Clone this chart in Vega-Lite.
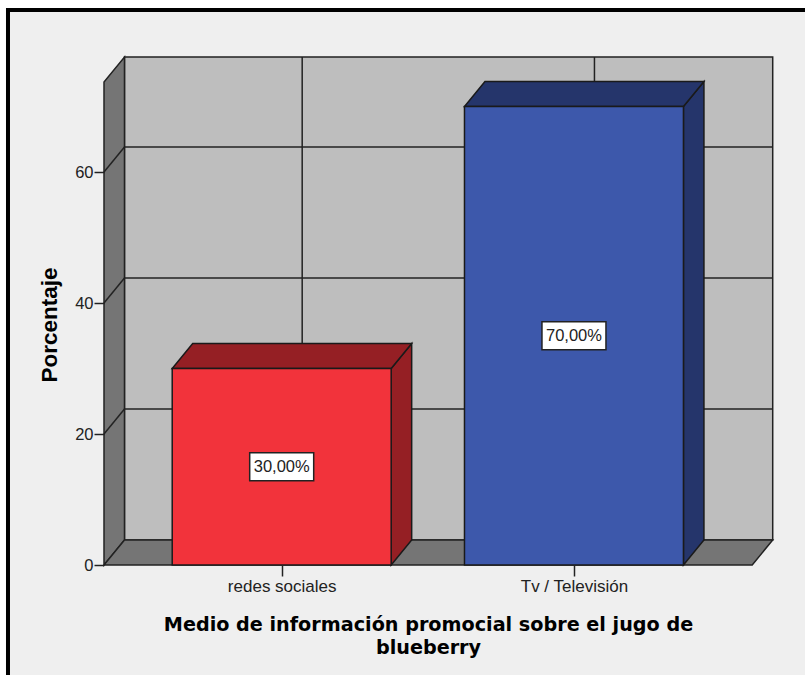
{
  "$schema": "https://vega.github.io/schema/vega-lite/v6.json",
  "autosize": {"type": "none"},
  "padding": {"left": 104, "top": 57, "right": 32, "bottom": 110},
  "width": 669,
  "height": 508,
  "background": "#ffffff",
  "view": {"stroke": null},
  "params": [
    {"name": "lo", "value": 0.392},
    {"name": "hi", "value": 2.6099},
    {"name": "fx", "value": 0.0701},
    {"name": "fy", "value": 3.82},
    {"name": "cima", "value": 73.74},
    {"name": "semi", "value": 0.3746}
  ],
  "datasets": {
    "barras": [
      {"medio": "redes sociales", "orden": 1, "porcentaje": 30},
      {"medio": "Tv / Televisión", "orden": 2, "porcentaje": 70}
    ],
    "niveles": [{"nivel": 20}, {"nivel": 40}, {"nivel": 60}],
    "categorias": [{"orden": 1}, {"orden": 2}],
    "uno": [{"k": 1}],
    "dos": [{"v": 0}, {"v": 1}],
    "cuatro": [{"v": 0}, {"v": 1}, {"v": 2}, {"v": 3}]
  },
  "layer": [
    {
      "data": {"name": "uno"},
      "transform": [
        {"calculate": "0.0635", "as": "a"},
        {"calculate": "2.825", "as": "b"},
        {"calculate": "84.73", "as": "t"},
        {"calculate": "-18.32", "as": "s"}
      ],
      "mark": {"type": "rect", "fill": "#efefef", "stroke": "#000000", "strokeWidth": 4},
      "encoding": {
        "x": {
          "field": "a",
          "type": "quantitative",
          "scale": {"domain": [0.392, 2.681], "nice": false, "zero": false},
          "axis": {
            "values": [1, 2],
            "labelExpr": "datum.value === 1 ? 'redes sociales' : 'Tv / Televisión'",
            "zindex": 1,
            "domain": false,
            "grid": false,
            "tickColor": "#222222",
            "tickWidth": 1.5,
            "tickSize": 11,
            "labelFont": "Liberation Sans",
            "labelFontSize": 17,
            "labelColor": "#222222",
            "labelPadding": 2,
            "labelOverlap": false,
            "labelBound": false,
            "labelFlush": false,
            "title": ["Medio de información promocial sobre el jugo de", "blueberry"],
            "titleFont": "DejaVu Sans",
            "titleFontSize": 19.2,
            "titleFontWeight": "bold",
            "titleColor": "#000000",
            "titleLineHeight": 22.5,
            "titleBaseline": "alphabetic",
            "titleX": 324,
            "titleY": 65.7
          }
        },
        "x2": {"field": "b"},
        "y": {
          "field": "t",
          "type": "quantitative",
          "scale": {"domain": [0, 77.56], "nice": false, "zero": false},
          "axis": {
            "values": [0, 20, 40, 60],
            "format": "d",
            "zindex": 1,
            "domain": false,
            "grid": false,
            "tickColor": "#222222",
            "tickWidth": 1.5,
            "tickSize": 10,
            "labelFont": "Liberation Sans",
            "labelFontSize": 16.5,
            "labelColor": "#222222",
            "labelPadding": 1,
            "labelBound": false,
            "labelFlush": false,
            "labelOverlap": false,
            "title": "Porcentaje",
            "titleFont": "Liberation Sans",
            "titleFontSize": 22.5,
            "titleFontWeight": "bold",
            "titleColor": "#000000",
            "titleAngle": -90,
            "titleBaseline": "alphabetic",
            "titleX": -47.3,
            "titleY": 267.5
          }
        },
        "y2": {"field": "s"}
      }
    },
    {
      "data": {"name": "uno"},
      "transform": [
        {"calculate": "lo + fx", "as": "a"},
        {"calculate": "hi + fx", "as": "b"},
        {"calculate": "cima + fy", "as": "t"},
        {"calculate": "fy", "as": "s"}
      ],
      "mark": {"type": "rect", "fill": "#bebebe", "stroke": "#222222", "strokeWidth": 1.5},
      "encoding": {
        "x": {"field": "a", "type": "quantitative"},
        "x2": {"field": "b"},
        "y": {"field": "t", "type": "quantitative"},
        "y2": {"field": "s"}
      }
    },
    {
      "data": {"name": "dos"},
      "transform": [
        {"calculate": "lo + datum.v * fx", "as": "px"},
        {"calculate": "datum.v * fy", "as": "base"},
        {"calculate": "cima + datum.v * fy", "as": "techo"}
      ],
      "mark": {"type": "area", "fill": "#757575", "stroke": "#222222", "strokeWidth": 1.5, "opacity": 1},
      "encoding": {
        "x": {"field": "px", "type": "quantitative"},
        "y": {"field": "base", "type": "quantitative"},
        "y2": {"field": "techo"}
      }
    },
    {
      "data": {"name": "cuatro"},
      "transform": [
        {"calculate": "[lo, lo + fx, hi, hi + fx][datum.v]", "as": "px"},
        {"calculate": "[0, 0, 0, fy][datum.v]", "as": "base"},
        {"calculate": "[0, fy, fy, fy][datum.v]", "as": "techo"}
      ],
      "mark": {"type": "area", "fill": "#757575", "stroke": "#222222", "strokeWidth": 1.5, "opacity": 1},
      "encoding": {
        "x": {"field": "px", "type": "quantitative"},
        "y": {"field": "base", "type": "quantitative"},
        "y2": {"field": "techo"}
      }
    },
    {
      "data": {"name": "niveles"},
      "transform": [
        {"calculate": "datum.nivel + fy", "as": "fondo"},
        {"calculate": "lo + fx", "as": "a"},
        {"calculate": "hi + fx", "as": "b"}
      ],
      "mark": {"type": "rule", "color": "#222222", "strokeWidth": 1.5},
      "encoding": {
        "x": {"field": "a", "type": "quantitative"},
        "x2": {"field": "b"},
        "y": {"field": "fondo", "type": "quantitative"}
      }
    },
    {
      "data": {"name": "niveles"},
      "transform": [
        {"calculate": "datum.nivel + fy", "as": "fondo"},
        {"calculate": "lo + fx", "as": "a"},
        {"calculate": "lo", "as": "b"}
      ],
      "mark": {"type": "rule", "color": "#222222", "strokeWidth": 1.5},
      "encoding": {
        "x": {"field": "b", "type": "quantitative"},
        "x2": {"field": "a"},
        "y": {"field": "nivel", "type": "quantitative"},
        "y2": {"field": "fondo"}
      }
    },
    {
      "data": {"name": "categorias"},
      "transform": [
        {"calculate": "datum.orden + fx", "as": "fondo"},
        {"calculate": "fy", "as": "piso"},
        {"calculate": "cima + fy", "as": "t"}
      ],
      "mark": {"type": "rule", "color": "#222222", "strokeWidth": 1.5},
      "encoding": {
        "x": {"field": "fondo", "type": "quantitative"},
        "y": {"field": "piso", "type": "quantitative"},
        "y2": {"field": "t"}
      }
    },
    {
      "data": {"name": "barras"},
      "transform": [
        {"calculate": "datum.medio + ' sombra'", "as": "clave"},
        {"calculate": "[0, 1]", "as": "v"},
        {"flatten": ["v"]},
        {"calculate": "datum.orden + semi + datum.v * fx", "as": "px"},
        {"calculate": "datum.v * fy", "as": "base"},
        {"calculate": "datum.porcentaje + datum.v * fy", "as": "techo"}
      ],
      "mark": {"type": "area", "stroke": "#1a1a1a", "strokeWidth": 1.5, "opacity": 1},
      "encoding": {
        "x": {"field": "px", "type": "quantitative"},
        "y": {"field": "base", "type": "quantitative"},
        "y2": {"field": "techo"},
        "fill": {
          "field": "clave",
          "type": "nominal",
          "legend": null,
          "scale": {
            "domain": ["redes sociales", "redes sociales sombra", "Tv / Televisión", "Tv / Televisión sombra"],
            "range": ["#f2333b", "#951f24", "#3d58ab", "#25356b"]
          }
        }
      }
    },
    {
      "data": {"name": "barras"},
      "transform": [
        {"calculate": "datum.medio + ' sombra'", "as": "clave"},
        {"calculate": "[0, 1, 2, 3]", "as": "v"},
        {"flatten": ["v"]},
        {"calculate": "[datum.orden - semi, datum.orden - semi + fx, datum.orden + semi, datum.orden + semi + fx][datum.v]", "as": "px"},
        {"calculate": "datum.porcentaje + (datum.v === 3 ? fy : 0)", "as": "base"},
        {"calculate": "datum.porcentaje + (datum.v === 0 ? 0 : fy)", "as": "techo"}
      ],
      "mark": {"type": "area", "stroke": "#1a1a1a", "strokeWidth": 1.5, "opacity": 1},
      "encoding": {
        "x": {"field": "px", "type": "quantitative"},
        "y": {"field": "base", "type": "quantitative"},
        "y2": {"field": "techo"},
        "fill": {"field": "clave", "type": "nominal", "legend": null}
      }
    },
    {
      "data": {"name": "barras"},
      "transform": [
        {"calculate": "datum.orden - semi", "as": "izq"},
        {"calculate": "datum.orden + semi", "as": "der"}
      ],
      "mark": {"type": "rect", "stroke": "#1a1a1a", "strokeWidth": 1.5},
      "encoding": {
        "x": {"field": "izq", "type": "quantitative"},
        "x2": {"field": "der"},
        "y": {"field": "porcentaje", "type": "quantitative"},
        "y2": {"datum": 0},
        "fill": {"field": "medio", "type": "nominal", "legend": null}
      }
    },
    {
      "data": {"name": "barras"},
      "transform": [{"calculate": "datum.porcentaje / 2", "as": "medio_valor"}],
      "mark": {"type": "rect", "width": 64, "height": 28, "fill": "#ffffff", "stroke": "#222222", "strokeWidth": 1.5},
      "encoding": {
        "x": {"field": "orden", "type": "quantitative"},
        "y": {"field": "medio_valor", "type": "quantitative"}
      }
    },
    {
      "data": {"name": "barras"},
      "transform": [
        {"calculate": "datum.porcentaje / 2", "as": "medio_valor"},
        {"calculate": "replace(format(datum.porcentaje, '.2f'), '.', ',') + '%'", "as": "etiqueta"}
      ],
      "mark": {"type": "text", "font": "Liberation Sans", "fontSize": 16.5, "color": "#222222", "baseline": "middle", "align": "center"},
      "encoding": {
        "x": {"field": "orden", "type": "quantitative"},
        "y": {"field": "medio_valor", "type": "quantitative"},
        "text": {"field": "etiqueta", "type": "nominal"}
      }
    }
  ]
}
